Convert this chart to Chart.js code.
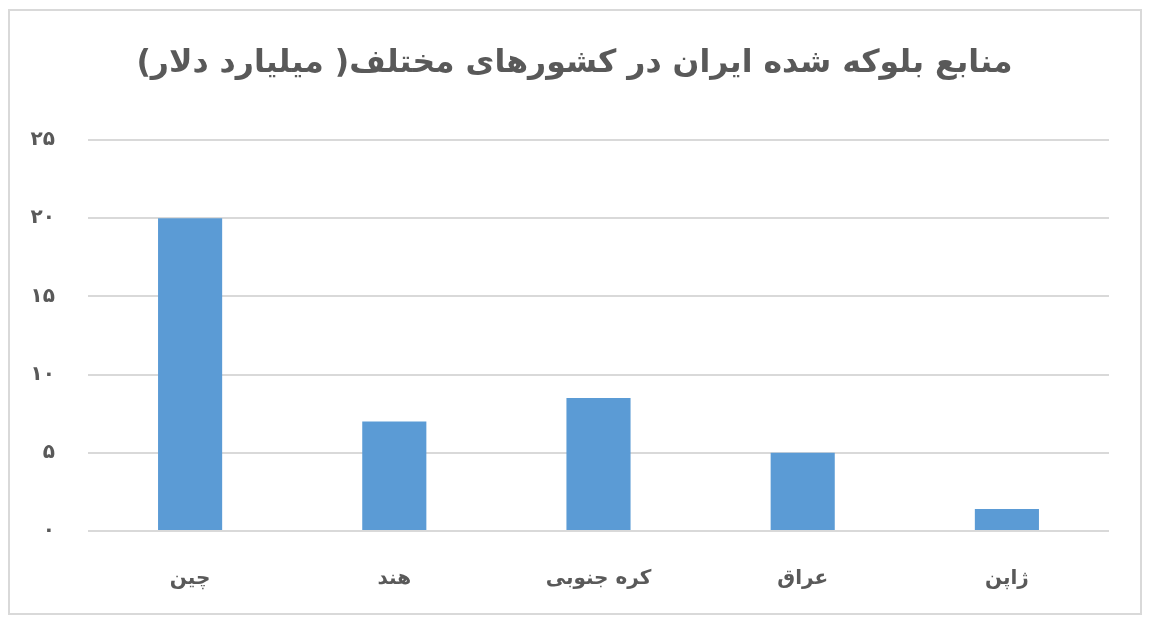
<!DOCTYPE html>
<html>
<head>
<meta charset="utf-8">
<script src="https://cdn.jsdelivr.net/npm/chart.js@4.4.1/dist/chart.umd.min.js"></script>
<style>
    body { margin: 0; background: #ffffff; }
    #frame {
        position: absolute; left: 8px; top: 9px; width: 1130px; height: 602px;
        border: 2px solid #d9d9d9;
    }
    #wrap { position: absolute; left: 0; top: 0; width: 1149px; height: 624px; }
</style>
</head>
<body>
<div id="frame"></div>
<div id="wrap"><canvas id="chart" dir="rtl"></canvas></div>
<script>
// data
const chartTitle = "منابع بلوکه شده ایران در کشورهای مختلف( میلیارد دلار)";
const countries = ["چین", "هند", "کره جنوبی", "عراق", "ژاپن"];
const blockedFunds = [20, 7, 8.5, 5, 1.4];
const yTicks = [0, 5, 10, 15, 20, 25];

const toPersianDigits = (value) => {
    const persian = "۰۱۲۳۴۵۶۷۸۹";
    return String(value).replace(/\d/g, (d) => persian[d]);
};

const textColor = "#595959";
const fontFamily = "'DejaVu Sans', sans-serif";

// title is centred on the whole canvas, not on the padded area
const centeredTitle = {
    id: "centeredTitle",
    afterDraw: (chart) => {
        const c = chart.ctx;
        c.save();
        c.font = "bold 31.5px " + fontFamily;
        c.fillStyle = textColor;
        c.textAlign = "center";
        c.textBaseline = "middle";
        c.direction = "rtl";
        c.fillText(chartTitle, chart.width / 2, 64);
        c.restore();
    }
};

const ctx = document.getElementById("chart");
new Chart(ctx, {
    type: "bar",
    data: {
        labels: countries,
        datasets: [{
            data: blockedFunds,
            backgroundColor: "#5b9bd5",
            categoryPercentage: 1,
            barPercentage: 0.314
        }]
    },
    options: {
        responsive: true,
        maintainAspectRatio: false,
        animation: false,
        layout: { padding: { left: 0, right: 40, top: 140, bottom: 23 } },
        plugins: {
            legend: { display: false },
            tooltip: { enabled: false },
            title: { display: false }
        },
        scales: {
            x: {
                grid: { display: false, drawTicks: false },
                border: { display: false },
                ticks: {
                    color: textColor,
                    padding: 36,
                    font: { family: fontFamily, size: 20, weight: "bold" }
                },
                afterFit: (scale) => { scale.height = 70; }
            },
            y: {
                min: yTicks[0],
                max: yTicks[yTicks.length - 1],
                afterBuildTicks: (scale) => {
                    scale.ticks = yTicks.map((v) => ({ value: v }));
                },
                grid: { color: "#d9d9d9", lineWidth: 2, drawTicks: false },
                border: { display: false },
                ticks: {
                    color: textColor,
                    padding: 33,
                    font: { family: fontFamily, size: 20, weight: "bold" },
                    callback: (value) => toPersianDigits(value)
                },
                afterFit: (scale) => { scale.width = 88; }
            }
        }
    },
    plugins: [centeredTitle]
});
</script>
</body>
</html>
